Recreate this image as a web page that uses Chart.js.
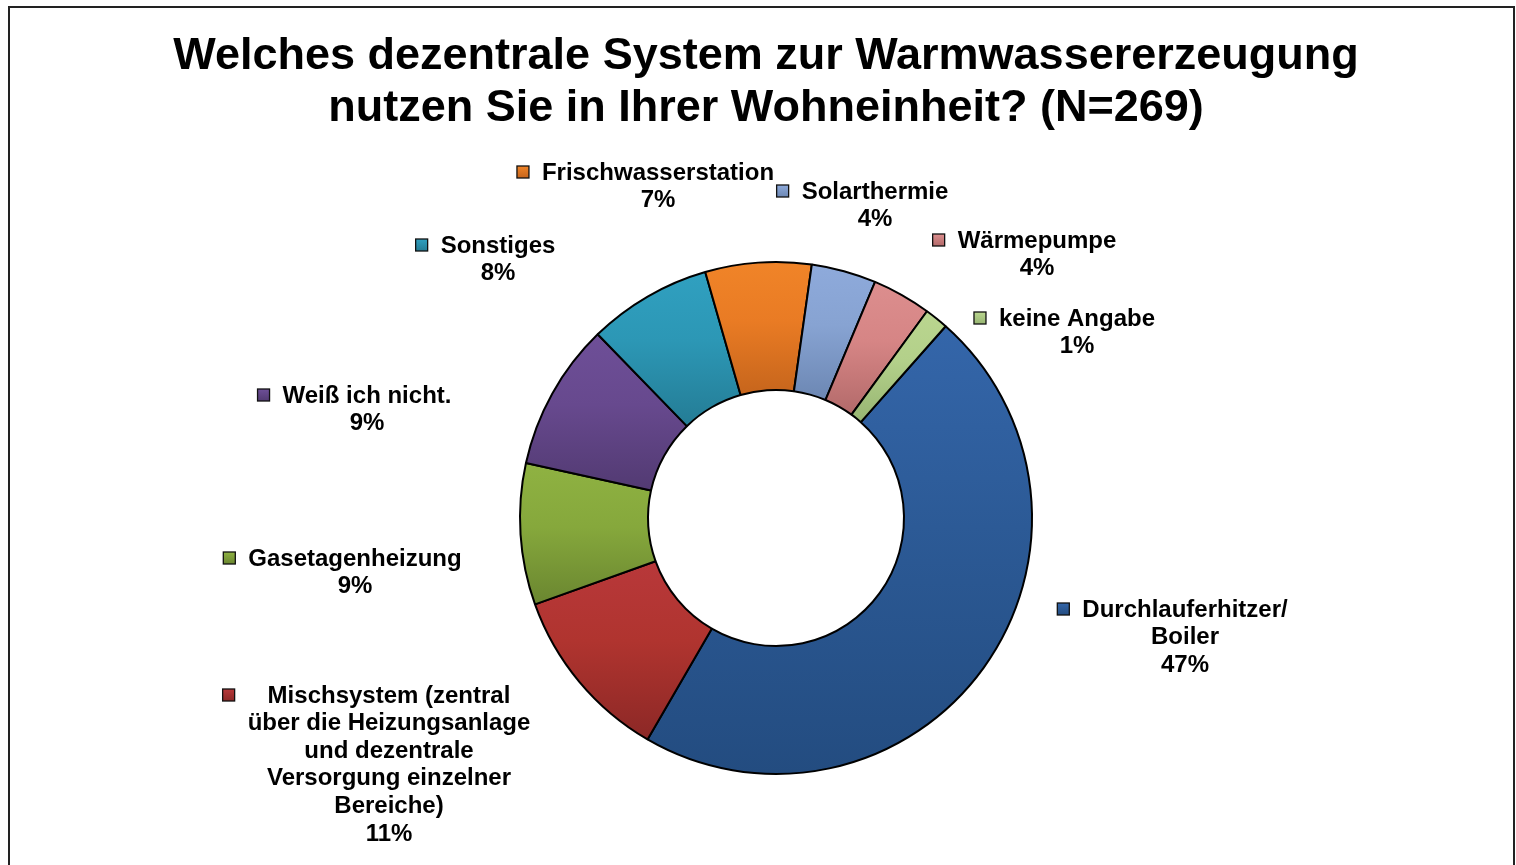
<!DOCTYPE html>
<html>
<head>
<meta charset="utf-8">
<script src="https://cdn.jsdelivr.net/npm/chart.js@4.4.1/dist/chart.umd.min.js"></script>
<style>
    html, body { margin: 0; padding: 0; background: #fff; }
    #wrap { width: 1516px; height: 865px; }
</style>
</head>
<body>
<div id="wrap"><canvas id="warmwasser_Chart" width="1516" height="865"></canvas></div>
<script>
// Daten (Anzahl Antworten, N=269)
const categories = [
    ['Durchlauferhitzer/', 'Boiler'],
    ['Mischsystem (zentral', 'über die Heizungsanlage', 'und dezentrale', 'Versorgung einzelner', 'Bereiche)'],
    ['Gasetagenheizung'],
    ['Weiß ich nicht.'],
    ['Sonstiges'],
    ['Frischwasserstation'],
    ['Solarthermie'],
    ['Wärmepumpe'],
    ['keine Angabe']
];
const counts = [126, 30, 24, 25, 21, 18, 11, 10, 4];
const titleLines = [
    'Welches dezentrale System zur Warmwassererzeugung',
    'nutzen Sie in Ihrer Wohneinheit? (N=269)'
];

const sliceColors = ['#2c5a96', '#b0342f', '#86a83c', '#67498e', '#2c97b5', '#e97b24', '#87a3d2', '#d68585', '#b3d08a'];
const darkColors  = ['#234c80', '#8c2826', '#6a8630', '#523a72', '#247c95', '#c6651c', '#6c87b3', '#b36a6a', '#97b572'];
const topColors   = ['#3466aa', '#b8383a', '#8fb242', '#6e4f98', '#30a0c0', '#f08428', '#8eaadb', '#dc8e8e', '#bad68f'];

// Position der Beschriftungen (Mitte x, erste Zeile y)
const labelPos = [
    [1185, 609], [389, 695], [355, 558], [367, 395], [498, 245],
    [658, 172], [875, 191], [1037, 240], [1077, 318]
];

const gradientPlugin = {
    id: 'sliceGradient',
    beforeDatasetsDraw(chart) {
        const ctx = chart.ctx;
        const meta = chart.getDatasetMeta(0);
        meta.data.forEach((arc, i) => {
            const { x, y, startAngle, endAngle, innerRadius, outerRadius } = arc.getProps(['x', 'y', 'startAngle', 'endAngle', 'innerRadius', 'outerRadius'], true);
            let minY = Infinity, maxY = -Infinity;
            for (let k = 0; k <= 40; k++) {
                const a = startAngle + (endAngle - startAngle) * k / 40;
                [innerRadius, outerRadius].forEach(r => {
                    const yy = y + Math.sin(a) * r;
                    minY = Math.min(minY, yy);
                    maxY = Math.max(maxY, yy);
                });
            }
            const g = ctx.createLinearGradient(0, minY, 0, maxY);
            g.addColorStop(0, topColors[i]);
            g.addColorStop(0.45, sliceColors[i]);
            g.addColorStop(1, darkColors[i]);
            arc.options.backgroundColor = g;
        });
    }
};

const labelPlugin = {
    id: 'outsideLabels',
    afterDraw(chart) {
        const ctx = chart.ctx;
        const total = counts.reduce((a, b) => a + b, 0);
        ctx.save();

        // Rahmen
        ctx.strokeStyle = '#222';
        ctx.lineWidth = 2;
        ctx.strokeRect(9, 7, 1505, 900);

        // Titel
        ctx.fillStyle = '#000';
        ctx.textAlign = 'center';
        ctx.textBaseline = 'middle';
        ctx.font = 'bold 45px "Liberation Sans", Arial, sans-serif';
        ctx.fillText(titleLines[0], 766, 57);
        ctx.fillText(titleLines[1], 766, 109);

        ctx.font = 'bold 24px "Liberation Sans", Arial, sans-serif';
        const lh = 27.6;
        categories.forEach((lines, i) => {
            const [cx, y0] = labelPos[i];
            const pct = Math.round(counts[i] / total * 100) + '%';
            const all = lines.concat([pct]);
            let maxW = 0;
            lines.forEach(l => { maxW = Math.max(maxW, ctx.measureText(l).width); });
            ctx.fillStyle = '#000';
            all.forEach((l, k) => ctx.fillText(l, cx, y0 + 1 + k * lh));
            // Marker
            const mx = cx - maxW / 2 - 25;
            const grad = ctx.createLinearGradient(0, y0 - 6, 0, y0 + 6);
            grad.addColorStop(0, topColors[i]);
            grad.addColorStop(1, darkColors[i]);
            ctx.fillStyle = grad;
            ctx.fillRect(mx, y0 - 6, 12, 12);
            ctx.strokeStyle = '#111';
            ctx.lineWidth = 1.3;
            ctx.strokeRect(mx, y0 - 6, 12, 12);
        });
        ctx.restore();
    }
};

const ctxW = document.getElementById('warmwasser_Chart').getContext('2d');
new Chart(ctxW, {
    type: 'doughnut',
    data: {
        labels: categories,
        datasets: [{
            data: counts,
            backgroundColor: sliceColors,
            borderColor: '#000',
            borderWidth: 2
        }]
    },
    options: {
        responsive: false,
        animation: false,
        rotation: 41.5,
        cutout: '50%',
        layout: {
            padding: { left: 519, right: 483, top: 261, bottom: 90 }
        },
        plugins: {
            legend: { display: false },
            tooltip: { enabled: false }
        }
    },
    plugins: [gradientPlugin, labelPlugin]
});
</script>
</body>
</html>
